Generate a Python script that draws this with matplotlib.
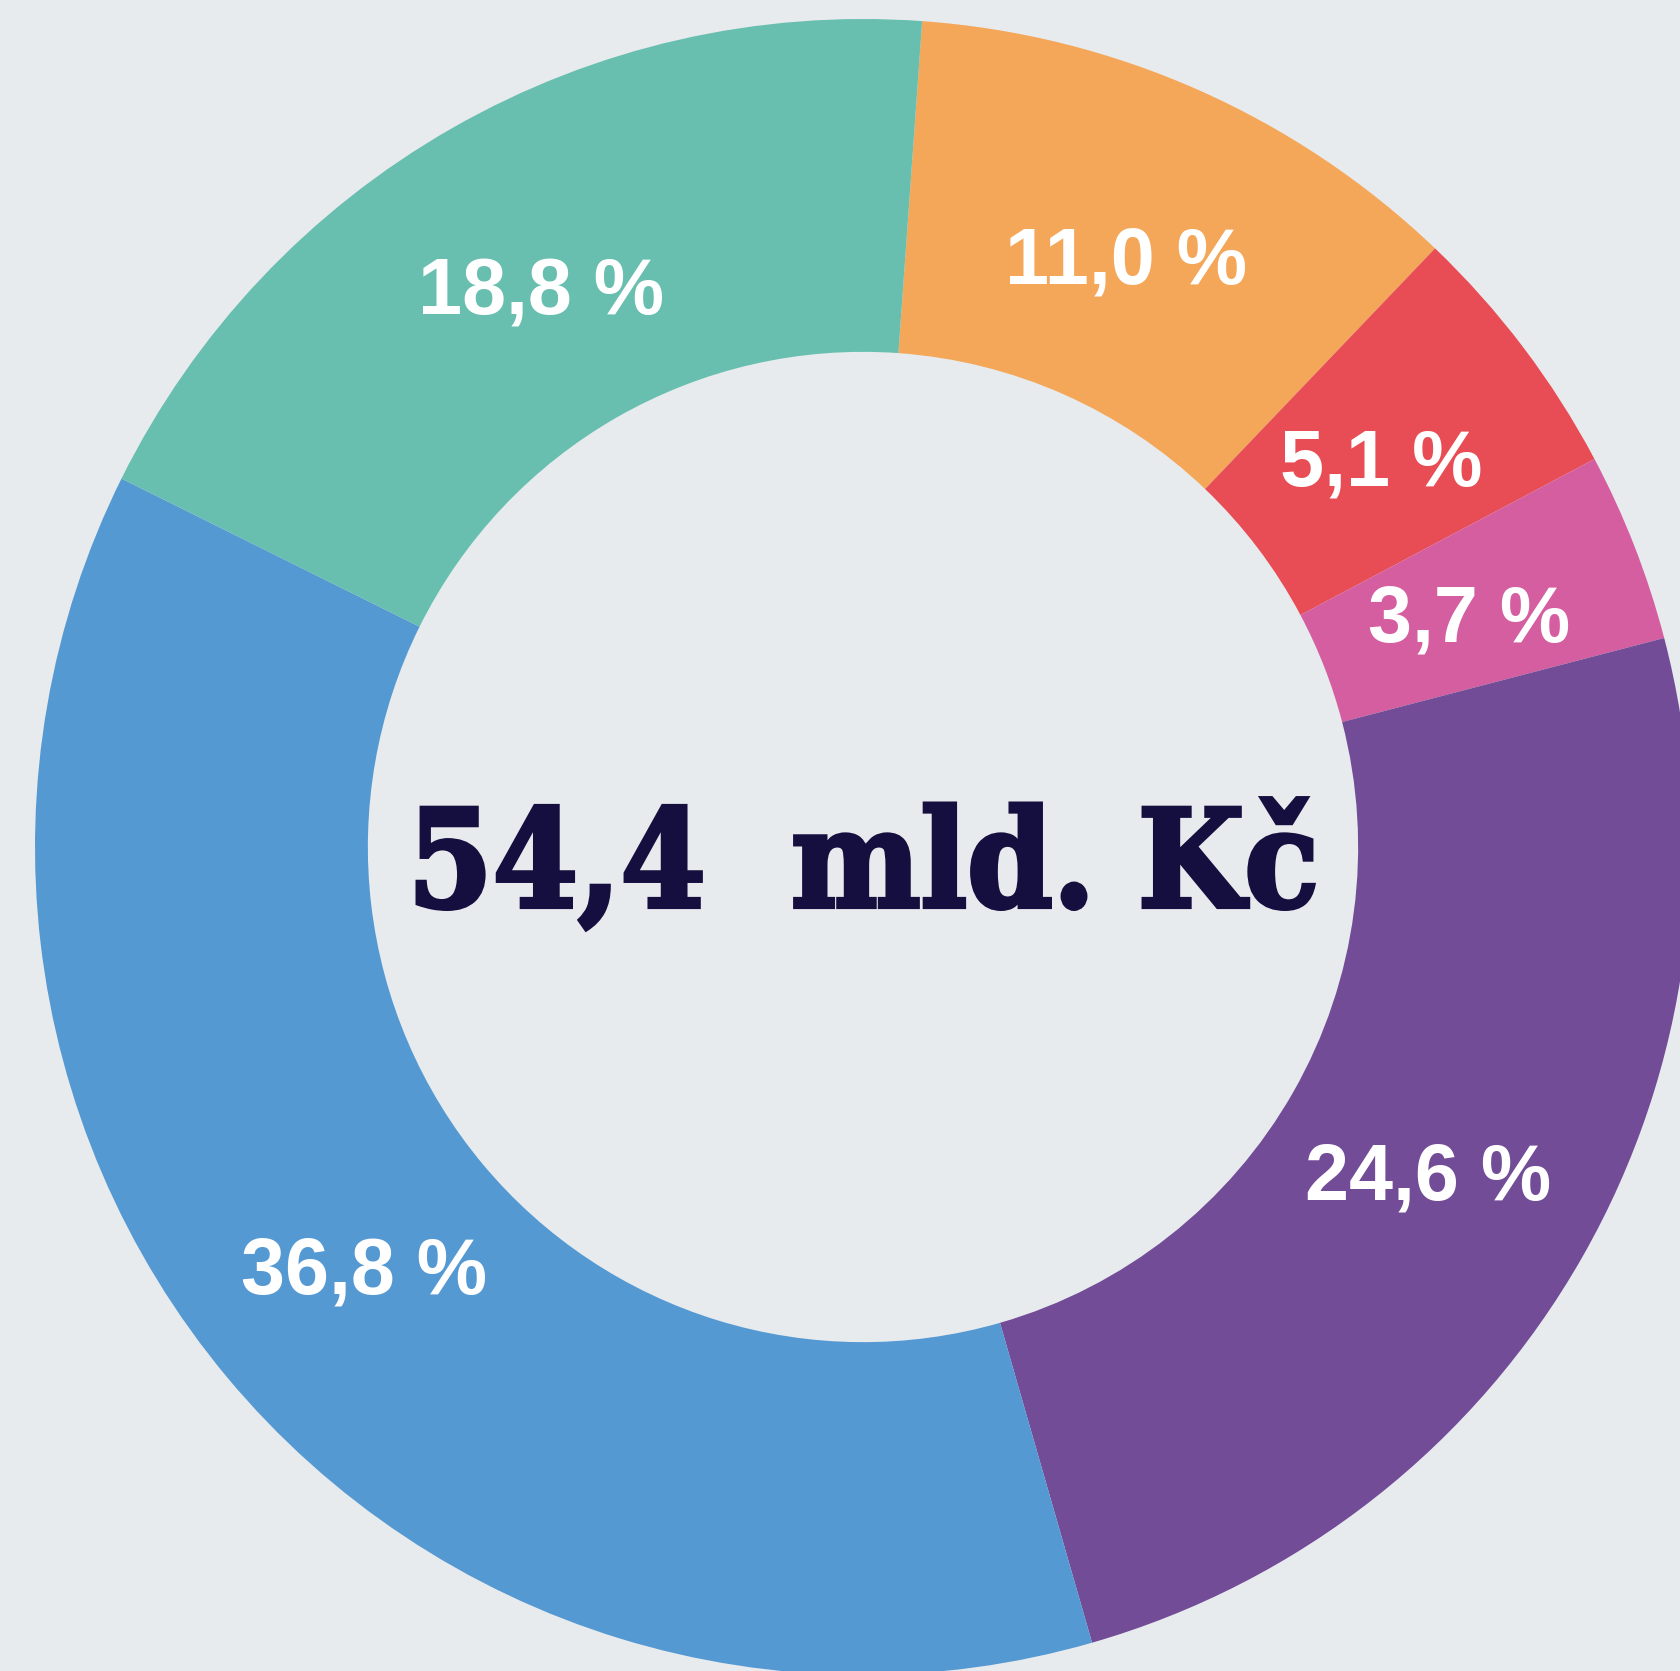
import matplotlib
matplotlib.use('Agg')
import matplotlib.pyplot as plt
import matplotlib.patheffects as pe
from matplotlib import font_manager as fm
import numpy as np

# shares, clockwise from the top
shares = [11.0, 5.1, 3.7, 24.6, 36.8, 18.8]
colors = ['#F4A759', '#E84C55', '#D45E9F', '#724C97', '#5599D3', '#68BFAF']
total_label = '54,4  mld. Kč'

W, H = 1681, 1671
cx, cy, R = 863, 847, 828   # centre and outer radius in pixels

# pin the font files so nothing falls back
label_file = fm.findfont(fm.FontProperties(family='Liberation Sans', weight='bold'))
title_file = fm.findfont(fm.FontProperties(family='DejaVu Serif', weight='bold',
                                           stretch='condensed'))
label_font = fm.FontProperties(fname=label_file, size=57)
title_font = fm.FontProperties(fname=title_file, size=98)

fig = plt.figure(figsize=(W / 100, H / 100), dpi=100)
fig.patch.set_facecolor('#E8EBEE')
ax = fig.add_axes([0, 0, 1, 1])
ax.set_facecolor('#E8EBEE')

wedges, texts, autotexts = ax.pie(
    shares, colors=colors, startangle=85.9, counterclock=False,
    radius=1.0, pctdistance=0.785,
    autopct=lambda p: f'{p:.1f} %'.replace('.', ','),
    wedgeprops=dict(width=0.402, linewidth=0))
for t in autotexts:
    t.set_fontproperties(label_font)
    t.set_color('white')
    x, y = t.get_position()
    t.set_position((x, y - 10 / R))   # comma pulls the box up, nudge down

# centre total, baseline a bit below the middle
ax.text(0, -60 / R, total_label, ha='center', va='baseline', color='#150F40',
        fontproperties=title_font,
        path_effects=[pe.withStroke(linewidth=3, foreground='#150F40',
                                    joinstyle='miter')])

ax.set_xlim(-cx / R, (W - cx) / R)
ax.set_ylim(-(H - cy) / R, cy / R)
ax.set_aspect('auto')
ax.axis('off')

fig.savefig('out.png', dpi=100, facecolor=fig.get_facecolor())
